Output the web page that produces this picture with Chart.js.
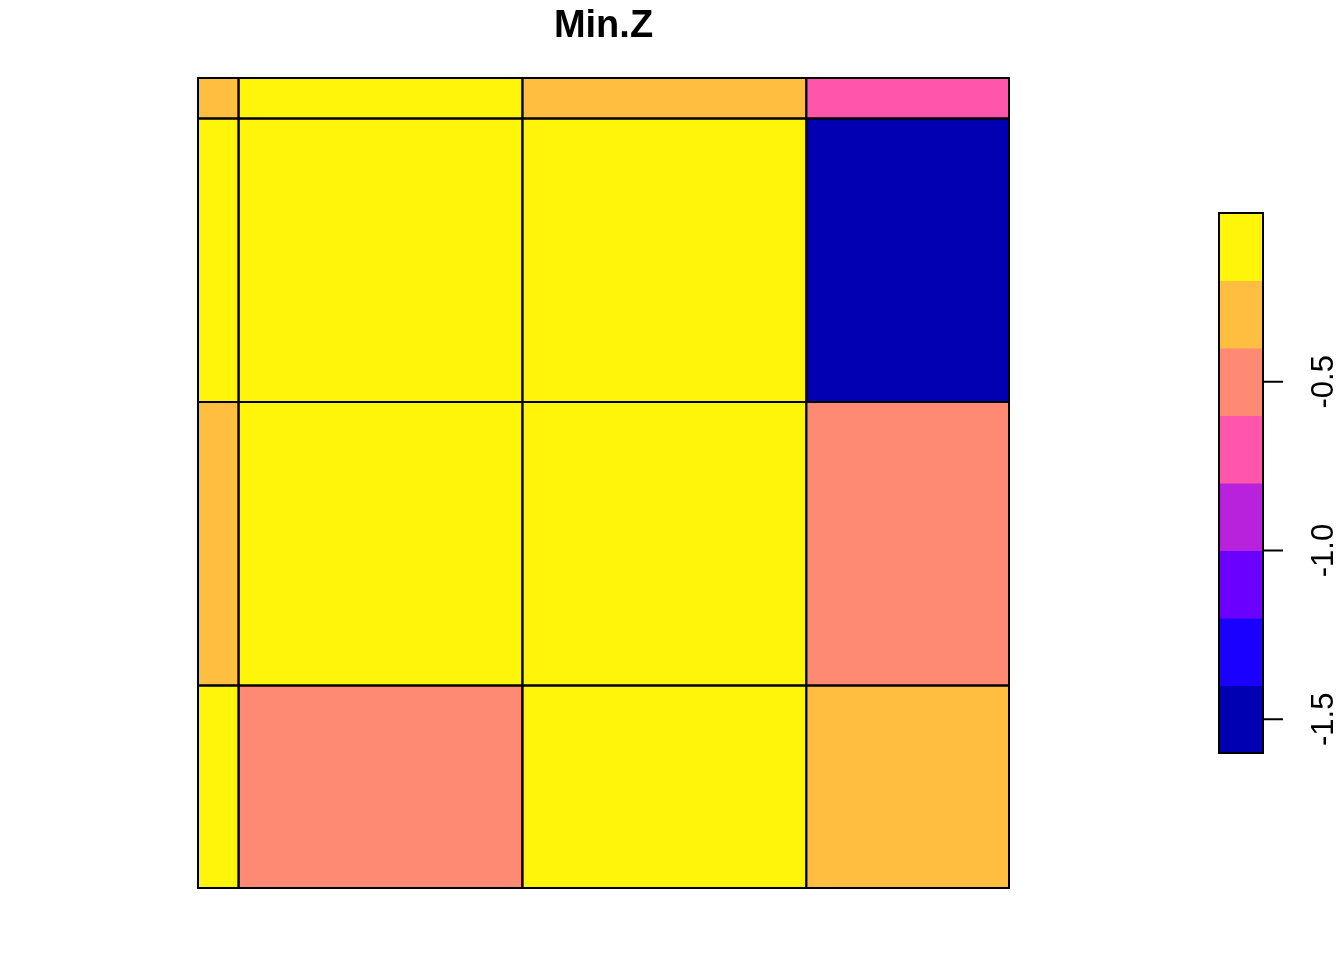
<!DOCTYPE html>
<html>
<head>
<meta charset="utf-8">
<script src="https://cdn.jsdelivr.net/npm/chart.js@4"></script>
<style>
html,body{margin:0;padding:0;background:#fff;}
canvas{display:block;}
</style>
</head>
<body>
<canvas id="c" width="1344" height="960"></canvas>
<script>
// Cell edges (raster coordinates); rows listed top to bottom
const xEdges = [0, 0.2, 1.6, 3.0, 4.0];
const yEdges = [0, 0.2, 1.6, 3.0, 4.0];
// Min.Z values per row (top to bottom), columns left to right
const row1 = [-0.3, -0.1, -0.3, -0.7];
const row2 = [-0.1, -0.1, -0.1, -1.5];
const row3 = [-0.3, -0.1, -0.1, -0.5];
const row4 = [-0.1, -0.5, -0.1, -0.3];
const rows = [row1, row2, row3, row4];
// Colour classes
const breaks = [-1.6, -1.4, -1.2, -1.0, -0.8, -0.6, -0.4, -0.2, 0.0];
const palette = ['#0000B3', '#1A00FF', '#6A00FF', '#B822DC', '#FF55AA', '#FF8A73', '#FFBE40', '#FFF50A'];
const legendTicks = [-1.5, -1.0, -0.5];
const legendLabels = ['-1.5', '-1.0', '-0.5'];
const titleText = 'Min.Z';

function colorFor(v) {
  for (let i = 0; i < palette.length; i++) {
    if (v >= breaks[i] && v <= breaks[i + 1]) return palette[i];
  }
  return '#ffffff';
}

const points = [];
rows.forEach((r, ri) => r.forEach((v, ci) => {
  points.push({ x: (xEdges[ci] + xEdges[ci + 1]) / 2, y: (yEdges[ri] + yEdges[ri + 1]) / 2, v: v, ri: ri, ci: ci });
}));

const rasterPlugin = {
  id: 'raster',
  afterDatasetsDraw(chart) {
    const ctx = chart.ctx;
    const xs = chart.scales.x, ys = chart.scales.y;
    ctx.save();
    // cells
    points.forEach(p => {
      const x0 = xs.getPixelForValue(xEdges[p.ci]), x1 = xs.getPixelForValue(xEdges[p.ci + 1]);
      const y0 = ys.getPixelForValue(yEdges[p.ri]), y1 = ys.getPixelForValue(yEdges[p.ri + 1]);
      ctx.fillStyle = colorFor(p.v);
      ctx.fillRect(x0, y0, x1 - x0, y1 - y0);
    });
    ctx.strokeStyle = '#000';
    ctx.lineWidth = 2;
    points.forEach(p => {
      const x0 = xs.getPixelForValue(xEdges[p.ci]), x1 = xs.getPixelForValue(xEdges[p.ci + 1]);
      const y0 = ys.getPixelForValue(yEdges[p.ri]), y1 = ys.getPixelForValue(yEdges[p.ri + 1]);
      ctx.strokeRect(x0, y0, x1 - x0, y1 - y0);
    });

    // title
    ctx.fillStyle = '#000';
    ctx.font = 'bold 38px "Liberation Sans", Arial, sans-serif';
    ctx.textAlign = 'center';
    ctx.textBaseline = 'alphabetic';
    ctx.fillText(titleText, (chart.chartArea.left + chart.chartArea.right) / 2, 37);

    // colour key
    const kx0 = 1219, kx1 = 1263, ky0 = 213, ky1 = 753;
    const vmin = breaks[0], vmax = breaks[breaks.length - 1];
    const ky = v => ky1 - (v - vmin) / (vmax - vmin) * (ky1 - ky0);
    for (let i = 0; i < palette.length; i++) {
      ctx.fillStyle = palette[i];
      const a = ky(breaks[i + 1]), b = ky(breaks[i]);
      ctx.fillRect(kx0, a, kx1 - kx0, b - a + 0.5);
    }
    ctx.strokeStyle = '#000';
    ctx.lineWidth = 2;
    ctx.strokeRect(kx0, ky0, kx1 - kx0, ky1 - ky0);
    ctx.font = '31px "Liberation Sans", Arial, sans-serif';
    ctx.fillStyle = '#000';
    legendTicks.forEach((t, i) => {
      const y = ky(t);
      ctx.beginPath();
      ctx.moveTo(kx1, y);
      ctx.lineTo(kx1 + 20, y);
      ctx.stroke();
      ctx.save();
      ctx.translate(1333, y);
      ctx.rotate(-Math.PI / 2);
      ctx.textAlign = 'center';
      ctx.textBaseline = 'alphabetic';
      ctx.fillText(legendLabels[i], 0, 0);
      ctx.restore();
    });
    ctx.restore();
  }
};

new Chart(document.getElementById('c'), {
  type: 'scatter',
  data: { datasets: [{ data: points, pointRadius: 0, pointHoverRadius: 0 }] },
  options: {
    responsive: false,
    animation: false,
    events: [],
    layout: { padding: { left: 198, top: 78, right: 335, bottom: 72 } },
    plugins: { legend: { display: false }, title: { display: false }, tooltip: { enabled: false } },
    scales: {
      x: { type: 'linear', min: 0, max: 4, display: false },
      y: { type: 'linear', min: 0, max: 4, reverse: true, display: false }
    }
  },
  plugins: [rasterPlugin]
});
</script>
</body>
</html>
